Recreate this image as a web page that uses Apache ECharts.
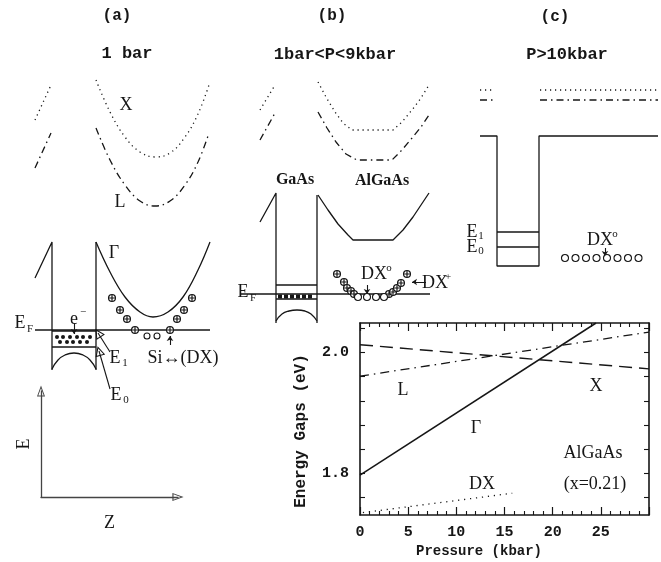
<!DOCTYPE html>
<html>
<head>
<meta charset="utf-8">
<script src="https://cdn.jsdelivr.net/npm/echarts@6.0.0/dist/echarts.min.js"></script>
<style>
  html, body { margin: 0; padding: 0; background: #fff; }
  #chart { width: 661px; height: 562px; }
</style>
</head>
<body>
<div id="chart"></div>
<script>
const INK = '#161616';
const MONO = '"Liberation Mono", "DejaVu Sans Mono", monospace';
const SERIF = '"Liberation Serif", "DejaVu Serif", serif';

// ---- main plot: energy gaps vs pressure (kbar, eV) ----
const gammaGap = [[0, 1.797], [24.5, 2.049]];
const xGap = [[0, 2.013], [30, 1.973]];
const lGap = [[0, 1.961], [30, 2.034]];
const dxLevel = [[0.3, 1.735], [15.8, 1.767]];
const xTickLabels = [0, 5, 10, 15, 20, 25];
const yTickValues = [1.76, 1.80, 1.84, 1.88, 1.92, 1.96, 2.00, 2.04];
const yTickLabels = [1.8, 2.0];

// ---- schematic (a) 1 bar : [z, E] in panel units ----
const aXLeft = [[15, 400], [31, 435]];
const aXRight = [[76, 440], [90, 408], [105, 383], [120, 368], [135, 363], [150, 367], [165, 383], [178, 406], [189, 435]];
const aLLeft = [[15, 352], [31, 387]];
const aLRight = [[76, 392], [90, 360], [105, 335], [120, 319], [135, 314], [150, 319], [165, 335], [178, 358], [189, 387]];
const aGammaLeft = [[15, 242], [32, 278], [32, 150]];
const aWallRight = [[76, 150], [76, 278]];
const aGammaRight = [[76, 278], [90, 248], [105, 223], [120, 208], [133, 203], [148, 208], [163, 223], [178, 250], [190, 278]];
const aValence = [[32, 151], [38, 160], [45, 165], [54, 167], [63, 165], [70, 160], [76, 151]];
const aFermi = [[15, 190], [190, 190]];
const aLevelE1 = [[32, 189], [76, 189]];
const aLevelE0 = [[32, 173], [76, 173]];
const aElectrons = [[37, 183], [43, 183], [50, 183], [57, 183], [63, 183], [70, 183], [40, 178], [47, 178], [53, 178], [60, 178], [67, 178]];
const aDonors = [[92, 222], [100, 210], [107, 201], [115, 190], [150, 190], [157, 201], [164, 210], [172, 222]];
const aEmpty = [[127, 184], [137, 184]];
const aArrows = [
  [[90, 168], [78, 187]],
  [[90, 131], [79, 169]]
];
const aSmallArrows = [
  [[54, 196], [54, 186]],
  [[150, 175], [150, 184]]
];

// ---- schematic (b) 1bar<P<9kbar ----
const bXLeft = [[30, 220], [45, 245]];
const bXRight = [[88, 248], [96, 233], [105, 218], [113, 207], [122, 200], [163, 200], [172, 208], [182, 220], [191, 232], [199, 245]];
const bLLeft = [[30, 190], [45, 217]];
const bLRight = [[88, 218], [97, 202], [106, 188], [116, 176], [127, 170], [162, 170], [172, 180], [182, 192], [191, 203], [199, 215]];
const bGammaLeft = [[30, 108], [46, 137], [46, 7]];
const bWallRight = [[87, 7], [87, 135]];
const bGammaRight = [[88, 135], [98, 120], [108, 106], [118, 95], [123, 90], [163, 90], [173, 100], [183, 113], [191, 125], [199, 137]];
const bValence = [[46, 9], [52, 16], [59, 19], [67, 20], [75, 19], [81, 16], [87, 9]];
const bFermi = [[10, 36], [200, 36]];
const bLevelE1 = [[46, 45], [87, 45]];
const bLevelE0 = [[46, 31], [87, 31]];
const bElectrons = [[50, 33.5], [56, 33.5], [62, 33.5], [68, 33.5], [74, 33.5], [80, 33.5]];
const bDonors = [[107, 56], [114, 48], [117, 42], [121, 39], [124, 36], [159, 36], [163, 38], [167, 42], [171, 47], [177, 56]];
const bEmpty = [[128, 33], [137, 33], [146, 33], [154, 33]];
const bSmallArrows = [
  [[137, 45], [137, 36]],
  [[196, 48], [182, 48]]
];

// ---- schematic (c) P>10kbar ----
const cXLeft = [[20, 190], [35, 190]];
const cXRight = [[80, 190], [198, 190]];
const cLLeft = [[20, 180], [35, 180]];
const cLRight = [[80, 180], [198, 180]];
const cGamma = [[20, 144], [37, 144], [37, 14], [79, 14], [79, 144], [198, 144]];
const cLevelE1 = [[37, 48], [79, 48]];
const cLevelE0 = [[37, 33], [79, 33]];
const cEmpty = [[105, 22], [115.5, 22], [126, 22], [136.5, 22], [147, 22], [157.5, 22], [168, 22], [178.5, 22]];
const cSmallArrows = [
  [[145, 32], [145, 24]]
];

const DOTTED = [1.2, 3.8];
const DASHDOT = [7, 4, 1.5, 4];
const HOLLOW_ARROW = 'path://M5,0L10,14L0,14ZM5,3.5L1.6,12.6L8.4,12.6Z';
const PLUS = 'path://M0,4H10V6H0ZM4,0H6V10H4Z';

const myChart = echarts.init(document.getElementById('chart'));

function curve(g, data, dash, smooth) {
  return {
    type: 'line', xAxisIndex: g, yAxisIndex: g, data: data,
    symbol: 'none', smooth: smooth || false, silent: true, clip: true,
    lineStyle: { color: INK, width: 1.3, type: dash || 'solid' }
  };
}

function dots(g, data, symbol, size, fill, z) {
  return {
    type: 'scatter', xAxisIndex: g, yAxisIndex: g, data: data,
    symbol: symbol, symbolSize: size, silent: true, z: z || 4,
    itemStyle: { color: fill, opacity: 1, borderColor: INK, borderWidth: fill === INK ? 0 : 1.1 }
  };
}

function arrows(g, list, symbol, size) {
  return {
    type: 'lines', coordinateSystem: 'cartesian2d', xAxisIndex: g, yAxisIndex: g,
    data: list.map(c => ({ coords: c })), silent: true,
    symbol: ['none', symbol], symbolSize: size,
    lineStyle: { color: INK, width: 1.1, opacity: 1, curveness: 0 }
  };
}

function donors(g, data) {
  return [dots(g, data, 'circle', 7, '#fff', 4), dots(g, data, PLUS, 6, INK, 5)];
}

// series
const series = [
  // (a)
  curve(0, aXLeft, DOTTED), curve(0, aXRight, DOTTED, 0.4),
  curve(0, aLLeft, DASHDOT), curve(0, aLRight, DASHDOT, 0.4),
  curve(0, aGammaLeft), curve(0, aWallRight), curve(0, aGammaRight, null, 0.4),
  curve(0, aValence, null, 0.5), curve(0, aFermi), curve(0, aLevelE1), curve(0, aLevelE0),
  dots(0, aElectrons, 'circle', 4, INK),
  ...donors(0, aDonors),
  dots(0, aEmpty, 'circle', 6, '#fff'),
  arrows(0, aArrows, HOLLOW_ARROW, [7, 10]),
  arrows(0, aSmallArrows, 'arrow', [4, 5]),
  // (b)
  curve(1, bXLeft, DOTTED), curve(1, bXRight, DOTTED),
  curve(1, bLLeft, DASHDOT), curve(1, bLRight, DASHDOT),
  curve(1, bGammaLeft), curve(1, bWallRight), curve(1, bGammaRight),
  curve(1, bValence, null, 0.5), curve(1, bFermi), curve(1, bLevelE1), curve(1, bLevelE0),
  dots(1, bElectrons, 'rect', [4, 4], INK),
  ...donors(1, bDonors),
  dots(1, bEmpty, 'circle', 7, '#fff'),
  arrows(1, bSmallArrows, 'arrow', [4, 5]),
  // (c)
  curve(2, cXLeft, DOTTED), curve(2, cXRight, DOTTED),
  curve(2, cLLeft, DASHDOT), curve(2, cLRight, DASHDOT),
  curve(2, cGamma), curve(2, cLevelE1), curve(2, cLevelE0),
  dots(2, cEmpty, 'circle', 7, '#fff'),
  arrows(2, cSmallArrows, 'arrow', [4, 5]),
  // main plot
  { type: 'line', xAxisIndex: 4, yAxisIndex: 4, data: gammaGap, symbol: 'none', silent: true,
    lineStyle: { color: INK, width: 1.5 } },
  { type: 'line', xAxisIndex: 4, yAxisIndex: 4, data: xGap, symbol: 'none', silent: true,
    lineStyle: { color: INK, width: 1.4, type: [13, 7] } },
  { type: 'line', xAxisIndex: 4, yAxisIndex: 4, data: lGap, symbol: 'none', silent: true,
    lineStyle: { color: INK, width: 1.3, type: [9, 5, 1.5, 5] } },
  { type: 'line', xAxisIndex: 4, yAxisIndex: 4, data: dxLevel, symbol: 'none', silent: true,
    lineStyle: { color: INK, width: 1.3, type: [1.2, 4.8] } }
];

function hidden(g, max) {
  return { gridIndex: g, type: 'value', min: 0, max: max, show: false };
}

const frame = { onZero: false, lineStyle: { color: INK, width: 1.6 } };
const mainTick = { inside: true, length: 8, lineStyle: { color: INK, width: 1.2 } };
const mainMinor = { show: true, splitNumber: 5, length: 4, lineStyle: { color: INK, width: 1.1 } };
const yTick = { inside: true, length: 5, customValues: yTickValues, lineStyle: { color: INK, width: 1.1 } };

const option = {
  backgroundColor: '#fff',
  animation: false,
  grid: [
    { left: 20, top: 60, width: 200, height: 460 },
    { left: 230, top: 60, width: 210, height: 270 },
    { left: 460, top: 60, width: 201, height: 220 },
    { left: 41, top: 391, width: 137, height: 106 },
    { left: 360, top: 323, width: 289, height: 192 }
  ],
  xAxis: [
    hidden(0, 200), hidden(1, 210), hidden(2, 201),
    { gridIndex: 3, type: 'value', min: 0, max: 1,
      axisLine: { show: true, onZero: false, symbol: ['none', HOLLOW_ARROW], symbolSize: [8, 12],
        lineStyle: { color: '#444', width: 1.3 } },
      axisTick: { show: false }, axisLabel: { show: false }, splitLine: { show: false },
      name: 'Z', nameLocation: 'middle', nameGap: 17,
      nameTextStyle: { color: INK, fontFamily: SERIF, fontSize: 18 } },
    { gridIndex: 4, type: 'value', min: 0, max: 30, interval: 5, position: 'bottom',
      axisLine: frame, axisTick: mainTick, minorTick: mainMinor, splitLine: { show: false },
      axisLabel: { margin: 10, color: INK, fontFamily: MONO, fontSize: 15, fontWeight: 'bold',
        formatter: v => xTickLabels.indexOf(v) >= 0 ? String(v) : '' } },
    { gridIndex: 4, type: 'value', min: 0, max: 30, interval: 5, position: 'top',
      axisLine: frame, axisTick: mainTick, minorTick: mainMinor, splitLine: { show: false },
      axisLabel: { show: false } }
  ],
  yAxis: [
    hidden(0, 460), hidden(1, 270), hidden(2, 220),
    { gridIndex: 3, type: 'value', min: 0, max: 1,
      axisLine: { show: true, onZero: false, symbol: ['none', HOLLOW_ARROW], symbolSize: [8, 12],
        lineStyle: { color: '#444', width: 1.3 } },
      axisTick: { show: false }, axisLabel: { show: false }, splitLine: { show: false },
      name: 'E', nameLocation: 'middle', nameGap: 8, nameRotate: 90,
      nameTextStyle: { color: INK, fontFamily: SERIF, fontSize: 18 } },
    { gridIndex: 4, type: 'value', min: 1.731, max: 2.049, position: 'left',
      axisLine: frame, axisTick: yTick, splitLine: { show: false },
      axisLabel: { customValues: yTickLabels, margin: 11, color: INK, fontFamily: MONO, fontSize: 15,
        fontWeight: 'bold', formatter: v => v.toFixed(1) } },
    { gridIndex: 4, type: 'value', min: 1.731, max: 2.049, position: 'right',
      axisLine: frame, axisTick: yTick, axisLabel: { show: false }, splitLine: { show: false } }
  ],
  series: series,
  graphic: []
};

// annotation text: [x, y, text, size, family, weight, rotation]
const labels = [
  [117, 16, '(a)', 16, MONO, 'bold'], [332, 16, '(b)', 16, MONO, 'bold'], [555, 17, '(c)', 16, MONO, 'bold'],
  [127, 54, '1 bar', 17, MONO, 'bold'], [335, 55, '1bar<P<9kbar', 17, MONO, 'bold'], [567, 55, 'P>10kbar', 17, MONO, 'bold'],
  [126, 105, 'X', 18, SERIF], [120, 202, 'L', 18, SERIF], [114, 253, '\u0393', 18, SERIF],
  [183, 358, 'Si\u2194(DX)', 18, SERIF],
  [295, 180, 'GaAs', 16, SERIF, 'bold'], [382, 181, 'AlGaAs', 16, SERIF, 'bold'],
  [403, 390, 'L', 18, SERIF], [596, 386, 'X', 18, SERIF], [476, 428, '\u0393', 18, SERIF],
  [593, 453, 'AlGaAs', 18, SERIF], [482, 484, 'DX', 18, SERIF], [595, 484, '(x=0.21)', 18, SERIF],
  [479, 551, 'Pressure (kbar)', 14, MONO, 'bold'],
  [301, 431, 'Energy Gaps (eV)', 16, MONO, 'bold', Math.PI / 2]
];
// base text with a small sub/superscript: [x, y, base, small, dx, dy]
const scripted = [
  [20, 323, 'E', 'F', 10, 6], [243, 292, 'E', 'F', 10, 6],
  [74, 319, 'e', '\u2212', 9, -7],
  [115, 358, 'E', '1', 10, 5], [116, 395, 'E', '0', 10, 5],
  [472, 232, 'E', '1', 9, 4], [472, 247, 'E', '0', 9, 4],
  [374, 274, 'DX', 'o', 15, -6], [435, 283, 'DX', '+', 13, -6], [600, 240, 'DX', 'o', 15, -6]
];

function textEl(x, y, text, size, family, weight, rotation) {
  return { type: 'text', x: x, y: y, rotation: rotation || 0, silent: true,
    style: { text: text, fill: INK, font: (weight ? weight + ' ' : '') + size + 'px ' + family,
      align: 'center', verticalAlign: 'middle', textAlign: 'center', textVerticalAlign: 'middle' } };
}

labels.forEach(l => option.graphic.push(textEl(l[0], l[1], l[2], l[3], l[4], l[5], l[6])));
scripted.forEach(s => {
  option.graphic.push(textEl(s[0], s[1], s[2], 18, SERIF));
  option.graphic.push(textEl(s[0] + s[4], s[1] + s[5], s[3], 11, SERIF));
});

myChart.setOption(option);
</script>
</body>
</html>
